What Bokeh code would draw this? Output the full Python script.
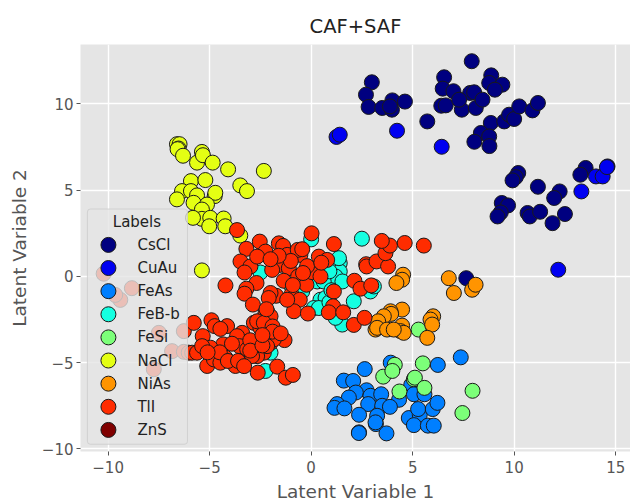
from bokeh.plotting import figure
from bokeh.embed import file_html
from bokeh.resources import INLINE
from bokeh.models import Range1d, FixedTicker, BoxAnnotation
from bokeh.core.properties import value

TITLE = "CAF+SAF"
X_LABEL = "Latent Variable 1"
Y_LABEL = "Latent Variable 2"
LEGEND_TITLE = "Labels"
X_TICKS = [-10, -5, 0, 5, 10, 15]
Y_TICKS = [-10, -5, 0, 5, 10]
LABELS = ["CsCl", "CuAu", "FeAs", "FeB-b", "FeSi", "NaCl", "NiAs", "TlI", "ZnS"]
COLORS = ["#000080", "#0000f1", "#007fff", "#15ffe1", "#7cff79", "#e4ff13", "#ff9400", "#ff2c00", "#800000"]

CsCl_x = [2.99,2.70,2.83,3.50,4.00,3.98,3.88,4.62,5.72,6.55,6.48,7.01,6.41,6.63,7.42,8.11,7.83,8.03,8.44,7.29,7.91,8.87,8.77,9.42,9.05,8.85,8.36,8.77,8.04,8.78,9.51,9.75,10.0,10.25,10.9,11.17,10.2,10.08,9.92,11.17,12.24,11.97,9.39,9.7,9.34,9.18,10.66,10.77,11.28,11.89,12.5,13.52,13.26,14.6,7.64]
CsCl_y = [11.26,10.54,9.83,9.77,10.21,9.67,9.86,10.14,8.99,11.55,10.89,10.74,9.90,9.92,9.67,9.77,10.64,10.68,10.25,10.25,12.48,11.66,11.22,11.12,10.83,8.90,8.32,8.12,7.81,7.56,8.99,9.38,9.13,9.86,9.63,10.06,6.0,5.76,5.57,5.2,4.93,4.55,4.26,4.12,3.71,3.48,3.68,3.48,3.75,3.09,3.62,6.29,5.9,6.38,-0.1]

CuAu_x = [1.25,1.41,4.23,6.43,13.31,14.03,14.36,14.57,12.17]
CuAu_y = [8.09,8.22,8.45,7.52,4.93,5.8,5.8,6.34,0.39]

FeAs_x = [2.64,3.92,6.24,7.37,1.61,2.07,2.73,2.2,1.86,2.92,3.45,4.33,4.93,5.39,5.06,1.28,1.15,1.64,2.81,3.5,3.88,2.36,3.25,3.19,3.17,4.81,5.35,5.27,5.99,6.22,5.06,5.75,6.04,2.36,2.35,3.71,5.58]
FeAs_y = [-5.37,-5.0,-5.13,-4.69,-6.04,-6.06,-6.6,-6.73,-7.02,-6.92,-6.83,-7.15,-6.29,-6.73,-6.83,-7.4,-7.62,-7.65,-7.4,-7.5,-7.56,-8.02,-8.08,-8.56,-8.46,-8.21,-8.02,-7.69,-7.69,-7.33,-8.62,-8.65,-8.65,-9.04,-9.08,-9.1,-6.83]

FeBb_x = [0,2.5,-2.5,1.2,1.41,1.41,1.2,1.37,1.54,0.3,0.62,2.92,3.09,2.1,0.46,0.13,0.71,0.38,1.53,1.2,-0.44,-2.25,-2.0,0.9,-1.0,0.9,1.0]
FeBb_y = [2.15,2.19,0.23,0.77,0.77,0.29,0,1.06,-0.29,-0.29,-0.29,-0.87,-0.58,-1.44,-1.35,-1.83,-1.25,-1.83,-2.79,-2.4,-0.87,-5.48,-4.42,-1.5,-0.5,0.3,-0.8]

FeSi_x = [4.12,3.55,4.0,5.5,5.06,5.11,4.35,5.58,5.29,7.95,7.45]
FeSi_y = [-5.12,-5.81,-5.48,-5.04,-5.96,-5.87,-6.67,-6.46,-3.08,-6.63,-7.92]

NaCl_x = [-6.61,-6.48,-6.53,-6.58,-6.31,-5.62,-5.38,-5.33,-4.85,-4.09,-2.33,-3.49,-3.16,-5.92,-5.21,-6.36,-5.92,-5.62,-6.61,-4.75,-4.72,-5.79,-5.13,-5.38,-5.38,-5.82,-4.97,-5.02,-4.31,-4.23,-3.49,-5.38]
NaCl_y = [7.67,7.67,7.42,7.38,7.0,6.6,7.22,7.03,6.6,6.21,6.12,5.28,4.95,5.53,5.59,4.95,4.95,4.7,4.47,4.66,4.85,4.27,4.17,3.88,3.34,3.4,3.4,2.91,3.36,2.91,2.37,0.35]

NiAs_x = [4.53,4.48,4.2,6.78,7.03,7.93,8.1,4.48,3.91,3.94,3.58,3.3,3.17,3.25,3.74,4.48,4.4,4.56,4.07,6.01,5.88,5.96,5.72]
NiAs_y = [0.1,-0.19,-0.38,-0.1,-0.96,-0.77,-0.48,-1.92,-2.02,-2.17,-2.31,-2.6,-3.08,-2.98,-3.08,-2.85,-3.17,-3.27,-3.08,-2.31,-2.5,-2.79,-3.56]

TlI_x = [-10.22,-8.83,-9.4,-9.65,-7.5,-6.27,-6.85,-6.27,-7.75,-6.03,
         -5.78,-4.91,-4.75,-4.14,-4.47,-5.34,-3.4,-3.65,-2.66,-2.82,-2.5,-2.09,-2.04,-2.17,-1.31,-2.0,-1.84,-2.33,-5.86,-5.62,-5.12,-4.79,-4.22,-4.47,-3.73,-3.4,-2.66,-2.63,-1.67,-1.25,-0.9,-4.33,-4.96,-3.53,-3.15,-2.91,-2.17,-2.58,-5.37,
         -3.65,-2.53,-3.19,-3.48,-2.99,-3.28,-4.22,-2.69,-3.19,-3.28,-2.87,-2.25,-2.66,-1.59,-1.38,-1.18,-0.53,-0.66,-0.44,-1.54,-1.92,-1.1,-0.64,-1.35,-0.23,0.05,0.38,1.12,0.02,0.79,0.46,-0.97,-1.72,-0.56,-0.85,-0.16,1.12,1.08,0.87,1.58,2.13,2.43,2.96,2.71,2.73,3.22,3.79,3.66,3.88,3.48,4.61,5.55,2.1,2.63,-2.0,-1.18,-2.09,-2.25,-2.0,-2.66,-2.33,
         -3.9,-3.0,-4.5,-4.1,-3.6,-3.0,-2.4,-1.9,-1.0,-0.2,-1.6,-2.0,-0.9,-0.4,0.5,-1.9,-1.5,-2.4,-2.2,-5.1,-3.3]
TlI_y = [0.16,-0.68,-1.36,-1.07,-3.27,-3.17,-4.33,-4.37,-5.38,-4.42,
         -2.69,-2.54,-2.88,-2.88,-3.04,-3.46,-3.27,-3.46,-2.63,-2.69,-2.98,-2.31,-2.69,-2.02,-3.69,-3.85,-3.65,-4.42,-4.42,-4.42,-5.19,-4.81,-4.71,-5.0,-5.19,-4.9,-4.62,-5.58,-5.23,-5.87,-5.71,-3.94,-4.13,-4.04,-4.23,-4.62,-4.04,-3.75,-4.04,
         2.69,2.02,1.6,0.87,0.58,0.23,-0.52,-0.38,-0.71,-1.0,-1.63,1.44,1.15,1.92,1.77,1.25,1.25,1.54,1.58,0.67,0.38,0.48,0,-0.25,-0.48,0.25,1.15,1.88,2.5,0.96,0,-1.04,-1.12,-1.35,-2.02,-2.15,-0.87,-1.73,-2.08,-2.08,-0.25,-0.71,-0.52,0.71,0.58,0.87,0.58,1.35,1.79,2.06,1.94,1.79,-2.81,-2.4,-0.96,-1.35,-1.25,-2.12,-2.31,-2.6,-2.69,
         -3.9,-3.7,-4.4,-4.9,-4.9,-4.3,-4.0,-2.9,0.9,0.6,1.2,1.0,-0.5,0.2,0.8,-3.2,-3.3,-3.4,-1.9,-4.4,-5.2]

ZnS_x = []
ZnS_y = []

SERIES = [(CsCl_x, CsCl_y), (CuAu_x, CuAu_y), (FeAs_x, FeAs_y), (FeBb_x, FeBb_y), (FeSi_x, FeSi_y),
          (NaCl_x, NaCl_y), (NiAs_x, NiAs_y), (TlI_x, TlI_y), (ZnS_x, ZnS_y)]

p = figure(width=630, height=504, output_backend="svg", toolbar_location=None,
           x_range=Range1d(-11.36, 15.73), y_range=Range1d(-10.15, 13.45),
           min_border_left=80, min_border_right=0, min_border_top=44, min_border_bottom=52,
           background_fill_color="#e5e5e5", border_fill_color="#ffffff",
           title=TITLE, outline_line_color=None)

p.title.align = "center"
p.title.text_font = "DejaVu Sans"
p.title.text_font_size = "19.5px"
p.title.text_font_style = "normal"
p.title.text_color = "#222222"
p.title.offset = 0
p.title.standoff = 13

for ax, ticks, lab, tick_gap, label_gap in ((p.xaxis[0], X_TICKS, X_LABEL, 5, 5), (p.yaxis[0], Y_TICKS, Y_LABEL, 3, 9)):
    ax.ticker = FixedTicker(ticks=ticks)
    ax.minor_tick_line_color = None
    ax.axis_line_color = None
    ax.major_tick_line_color = "#555555"
    ax.major_tick_out = 4
    ax.major_tick_in = 0
    ax.major_label_text_color = "#555555"
    ax.major_label_text_font = "DejaVu Sans"
    ax.major_label_text_font_size = "15px"
    ax.major_label_standoff = tick_gap
    ax.axis_label = lab
    ax.axis_label_text_color = "#555555"
    ax.axis_label_text_font = "DejaVu Sans"
    ax.axis_label_text_font_size = "18.5px"
    ax.axis_label_text_font_style = "normal"
    ax.axis_label_standoff = label_gap

for g in (p.xgrid[0], p.ygrid[0]):
    g.grid_line_color = "#ffffff"
    g.grid_line_width = 1.4
p.xgrid[0].ticker = FixedTicker(ticks=X_TICKS)
p.ygrid[0].ticker = FixedTicker(ticks=Y_TICKS)

for (xs, ys), col in zip(SERIES, COLORS):
    p.scatter(xs, ys, size=15, fill_color=col, line_color="#1a1a1a", line_width=1)

# legend: translucent panel above the points, then swatches and labels
panel = BoxAnnotation(left=-11.02, right=-6.09, top=3.91, bottom=-9.73,
                      fill_color="#e5e5e5", fill_alpha=0.8,
                      line_color="#cccccc", line_alpha=0.8, line_width=1,
                      border_radius=3, level="guide")
p.add_layout(panel)

row_y = [1.83 - 1.341 * i for i in range(len(LABELS))]
p.scatter([-9.985] * len(LABELS), row_y, size=15, fill_color=COLORS,
          line_color="#1a1a1a", line_width=1, level="overlay")
p.text([-8.557] * len(LABELS), row_y, text=LABELS, text_font=value("DejaVu Sans"),
       text_font_size="15px", text_color="#222222", text_baseline="middle",
       text_align="left", level="overlay")
p.text([-8.58], [3.16], text=[LEGEND_TITLE], text_font=value("DejaVu Sans"),
       text_font_size="15px", text_color="#222222", text_baseline="middle",
       text_align="center", level="overlay")

open("out.html", "w").write(file_html(p, INLINE))
